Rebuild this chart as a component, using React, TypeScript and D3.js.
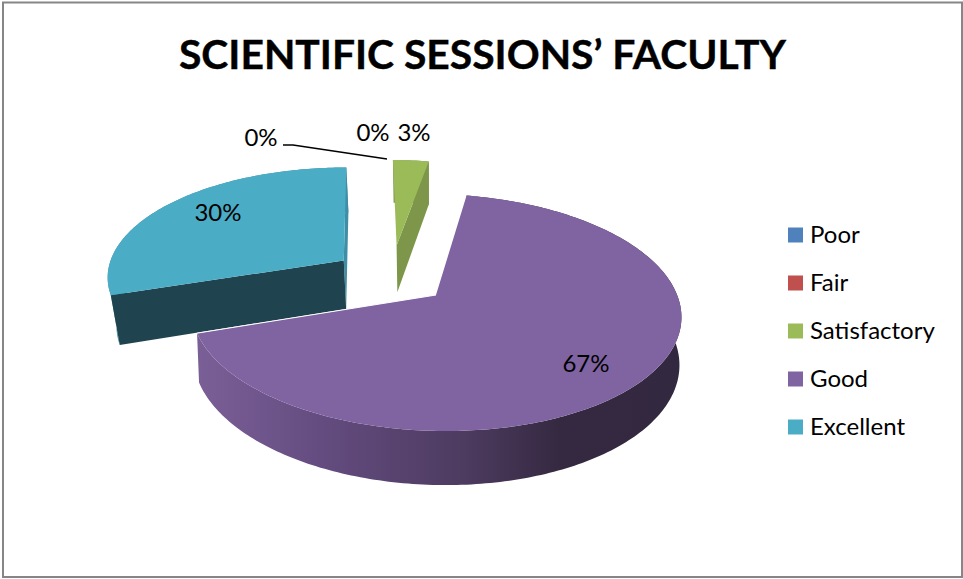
import React from "react";
import * as d3 from "d3";

const titleText = "SCIENTIFIC SESSIONS’ FACULTY";
const categories = ["Poor", "Fair", "Satisfactory", "Good", "Excellent"];
const percentages = [0, 0, 3, 67, 30];
const sliceColors = ["#4f81bd", "#c0504d", "#9bbb59", "#8064a2", "#4bacc6"];

// layout configuration (not data)
const W = 963, H = 579;
const cx = 436, cy = 295;
const A = 242.3, B = 115.9, k = 0.1477, shearX = 0.012, shearY = 3.2;
const wallShrink = [0.02, 0.02, 0.02, 0.008, 0.028];
const wallDepth = [49.8, 49.8, 49.8, 47.6, 51];
const explodeU = [0, 0, -0.168, 0, -0.394];
const explodeV = [0, 0, 0.45, 0, 0.3];
const radiusScale = [1, 1, 0.95, 1, 1];
const labelX = [261, 373, 414, 586, 218];
const labelY = [138, 133, 133, 364, 213];
const drawOrder = [4, 2, 3];
const startDeg = -1.8;
const sideColor = ["#3a6595", "#983e3b", "#7e964a", "#5c4777", "#3f8ea6"];
const radialColor = ["#3a6595", "#983e3b", "#7e964a", "#5c4777", "#1f444f"];

const project = (u: number, v: number, h: number, i: number): [number, number] => {
  const denom = 1 + k * v + wallShrink[i] * h;
  return [cx + (A * (u - shearX * v)) / denom, cy + (-B * v + wallDepth[i] * h + shearY * u) / denom];
};

const pieAngles = d3
  .pie<number>()
  .sort(null)
  .startAngle((startDeg * Math.PI) / 180)
  .endAngle((startDeg * Math.PI) / 180 + 2 * Math.PI)(percentages);

const line = d3.line();

function slice(i: number) {
  const { startAngle, endAngle } = pieAngles[i];
  const r = radiusScale[i], ou = explodeU[i], ov = explodeV[i];
  const pt = (a: number, h: number) => project(ou + r * Math.sin(a), ov + r * Math.cos(a), h, i);
  const apex = (h: number) => project(ou, ov, h, i);
  const n = Math.max(4, Math.ceil(((endAngle - startAngle) * 180) / Math.PI));
  const angles = d3.range(n + 1).map((j) => startAngle + ((endAngle - startAngle) * j) / n);
  return {
    top: (line([apex(0), ...angles.map((a) => pt(a, 0))]) ?? "") + "Z",
    outer: (line([...angles.map((a) => pt(a, 0)), ...[...angles].reverse().map((a) => pt(a, 1))]) ?? "") + "Z",
    startWall: (line([apex(0), pt(startAngle, 0), pt(startAngle, 1), apex(1)]) ?? "") + "Z",
    endWall: (line([apex(0), pt(endAngle, 0), pt(endAngle, 1), apex(1)]) ?? "") + "Z",
    endEdge: line([apex(0), pt(endAngle, 0)]) ?? "",
  };
}

const legendY = d3.scalePoint<string>().domain(categories).range([235, 427]);
const font = "Lato, Carlito, Calibri, sans-serif";

export default function App() {
  return (
    <svg width={W} height={H} viewBox={`0 0 ${W} ${H}`} style={{ position: "absolute", left: 0, top: 0, background: "#fff" }}>
      <defs>
        <linearGradient id="wallGood" gradientUnits="userSpaceOnUse" x1={200} y1={0} x2={680} y2={0}>
          <stop offset="0" stopColor="#7a5f97" />
          <stop offset="0.25" stopColor="#644c80" />
          <stop offset="0.55" stopColor="#4d3b60" />
          <stop offset="0.75" stopColor="#352941" />
          <stop offset="1" stopColor="#32283f" />
        </linearGradient>
      </defs>
      <rect x={3} y={2.5} width={959} height={574.5} fill="#fff" stroke="#868686" strokeWidth={2} />
      <text x={482.5} y={69} textAnchor="middle" fontFamily={font} fontWeight={700} fontSize={40.8} fill="#000" stroke="#000" strokeWidth={0.4}>
        {titleText}
      </text>

      {drawOrder.map((i) => {
        const s = slice(i);
        return (
          <g key={categories[i]}>
            {i === 4 && <path d={s.endWall} fill={sideColor[i]} />}
            <path d={s.outer} fill={i === 3 ? "url(#wallGood)" : sideColor[i]} />
            {i === 4 && <path d={s.startWall} fill={radialColor[i]} />}
            {i === 2 && <path d={s.endWall} fill={sideColor[i]} />}
            <path d={s.top} fill={sliceColors[i]} />
            {i === 3 && <path d={s.endEdge} fill="none" stroke="#fff" strokeWidth={1} />}
          </g>
        );
      })}

      <path d="M283,145 L293,145 L387,159" fill="none" stroke="#000" strokeWidth={1.5} />
      {percentages.map((v, i) => (
        <text key={i} x={labelX[i]} y={labelY[i]} dy="0.35em" textAnchor="middle" fontFamily={font} fontSize={24} fill="#000">
          {`${v}%`}
        </text>
      ))}

      {categories.map((c, i) => (
        <g key={c}>
          <rect x={788} y={(legendY(c) ?? 0) - 7.5} width={15} height={15} fill={sliceColors[i]} />
          <text x={810} y={legendY(c) ?? 0} dy="0.35em" fontFamily={font} fontSize={24} fill="#000">
            {c}
          </text>
        </g>
      ))}
    </svg>
  );
}
